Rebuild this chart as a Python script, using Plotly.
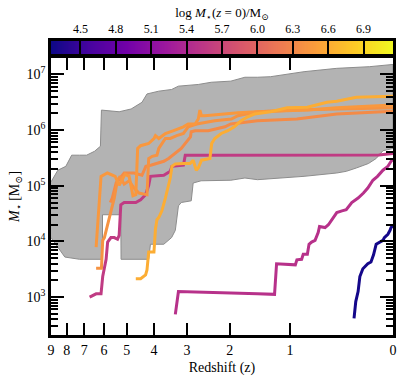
import numpy as np
import plotly.graph_objects as go
from plotly.colors import sample_colorscale

# grey band (spread of the sample), upper and lower edges
band_z_upper = [9.0, 8.55, 8.05, 7.70, 7.25, 6.87, 6.46, 6.17, 6.12, 5.32, 4.83, 4.42, 4.24, 3.84,
                3.44, 3.24, 2.71, 2.40, 1.98, 1.71, 1.49, 1.28, 0.82, 0.46, 0.17, 0.0]
band_logm_upper = [5.07, 5.28, 5.35, 5.55, 5.55, 5.55, 5.62, 5.71, 6.36, 6.33, 6.38, 6.50, 6.65, 6.70,
                   6.73, 6.79, 6.82, 6.86, 6.88, 6.95, 6.95, 6.96, 7.05, 7.11, 7.14, 7.18]
band_z_lower = [9.0, 8.11, 7.25, 6.31, 6.07, 6.07, 5.25, 5.24, 4.18, 4.12, 3.68, 3.44, 3.33, 3.24,
                3.16, 2.89, 2.84, 2.64, 1.98, 1.71, 1.49, 0.82, 0.46, 0.37, 0.28, 0.18, 0.12, 0.07, 0.0]
band_logm_lower = [4.07, 3.72, 3.68, 3.68, 3.68, 4.48, 4.48, 3.68, 3.68, 3.95, 3.95, 4.07, 4.20, 4.64,
                   4.70, 4.73, 5.05, 5.09, 5.10, 5.14, 5.11, 5.17, 5.23, 5.26, 5.32, 5.40, 5.49, 5.63, 5.67]

# individual histories: redshift and log stellar mass
z_blue = [0.30, 0.285, 0.265, 0.25, 0.225, 0.185, 0.16, 0.14, 0.12, 0.09, 0.07, 0.06, 0.035, 0.02, 0.013, 0.0]
logm_blue = [2.62, 2.92, 3.10, 3.37, 3.51, 3.60, 3.63, 3.76, 3.95, 3.99, 4.02, 4.07, 4.13, 4.20, 4.25, 4.29]

z_mag1 = [3.33, 3.24, 1.49, 1.22, 1.19, 0.93, 0.91, 0.85, 0.83, 0.78, 0.76, 0.73, 0.69, 0.655, 0.64,
          0.58, 0.545, 0.49, 0.46, 0.41, 0.37, 0.32, 0.265, 0.22, 0.185, 0.145, 0.11, 0.07, 0.035, 0.013, 0.0]
logm_mag1 = [2.69, 3.10, 3.06, 3.05, 3.60, 3.58, 3.67, 3.68, 3.77, 3.77, 3.95, 3.99, 4.02, 4.16, 4.27,
             4.25, 4.30, 4.45, 4.52, 4.55, 4.57, 4.70, 4.78, 4.87, 4.96, 5.10, 5.17, 5.28, 5.35, 5.44, 5.48]

z_mag2 = [6.71, 6.38, 6.14, 6.06, 5.90, 5.83, 5.68, 5.53, 5.39, 5.32, 5.25, 5.11, 4.65, 4.47, 4.29,
          4.18, 4.12, 3.68, 3.48, 3.43, 3.10, 3.05, 2.59, 1.49, 0.91, 0.46, 0.10, 0.0]
logm_mag2 = [3.00, 3.06, 3.06, 3.37, 3.68, 3.99, 4.07, 4.07, 4.04, 4.11, 4.66, 4.70, 4.70, 4.75, 4.84,
             5.01, 5.17, 5.19, 5.26, 5.35, 5.37, 5.55, 5.55, 5.55, 5.55, 5.555, 5.555, 5.58]

z_or1 = [6.38, 6.14, 5.84, 5.49, 5.32, 5.07, 4.91, 4.76, 4.65, 4.58, 4.47, 4.18, 4.00, 3.95, 3.84,
         3.63, 3.38, 3.24, 3.10, 2.97, 2.79, 2.71, 2.67, 2.63, 2.55, 1.84, 1.49, 0.78, 0.46, 0.0]
logm_or1 = [3.90, 5.17, 5.23, 5.17, 5.01, 5.21, 5.17, 4.82, 4.84, 5.67, 5.72, 5.76, 5.85, 5.90, 5.85,
            5.94, 5.99, 6.02, 6.06, 6.11, 6.11, 6.20, 6.36, 6.26, 6.26, 6.31, 6.33, 6.36, 6.40, 6.45]

z_or2 = [6.38, 6.12, 6.06, 5.98, 5.75, 5.62, 5.53, 5.40, 5.28, 5.11, 4.91, 4.72, 4.53, 4.35, 4.24,
         4.18, 4.06, 3.90, 3.84, 3.63, 3.48, 3.29, 3.10, 2.97, 2.88, 2.75, 2.32, 1.97, 1.84, 1.49, 0.91, 0.46, 0.0]
logm_or2 = [3.52, 3.52, 4.02, 4.07, 4.43, 4.66, 4.78, 5.09, 5.17, 5.03, 5.09, 4.96, 4.87, 4.85, 4.84,
            5.49, 5.53, 5.55, 5.67, 5.85, 5.85, 5.90, 5.94, 6.06, 6.08, 6.11, 6.17, 6.20, 6.26, 6.33, 6.36, 6.38, 6.40]

z_or3 = [5.71, 5.62, 5.45, 5.11, 4.72, 4.42, 4.28, 4.11, 3.68, 3.53, 3.16, 3.05, 2.91, 2.89, 2.79,
         2.47, 2.31, 2.10, 1.98, 1.49, 0.91, 0.46, 0.0]
logm_or3 = [4.70, 4.78, 5.05, 5.23, 5.23, 5.19, 5.35, 5.37, 5.44, 5.49, 5.67, 5.76, 5.88, 5.97, 5.99,
            5.99, 6.02, 6.06, 6.11, 6.17, 6.20, 6.29, 6.34]

z_yel = [4.65, 4.47, 4.29, 4.24, 4.18, 4.00, 3.95, 3.90, 3.84, 3.74, 3.63, 3.53, 3.48, 3.43, 3.33,
         3.10, 2.92, 2.84, 2.76, 2.71, 2.63, 2.43, 2.39, 2.32, 2.18, 2.04, 1.91, 1.78, 1.66, 1.54,
         1.28, 1.04, 0.78, 0.56, 0.46, 0.28, 0.0]
logm_yel = [3.33, 3.33, 3.40, 3.49, 3.81, 3.81, 4.22, 4.39, 4.43, 4.55, 4.78, 5.01, 5.14, 5.35, 5.39,
            5.40, 5.40, 5.46, 5.28, 5.32, 5.46, 5.49, 5.76, 5.85, 5.94, 5.99, 6.06, 6.17, 6.24, 6.29,
            6.33, 6.40, 6.41, 6.50, 6.52, 6.59, 6.61]

histories = [(z_blue, logm_blue), (z_mag1, logm_mag1), (z_mag2, logm_mag2),
             (z_or3, logm_or3), (z_or2, logm_or2), (z_or1, logm_or1), (z_yel, logm_yel)]

cbar_lo, cbar_hi = 4.25, 7.15
cbar_ticks = [4.5, 4.8, 5.1, 5.4, 5.7, 6.0, 6.3, 6.6, 6.9]
z_ticks = [0, 1, 2, 3, 4, 5, 6, 7, 8, 9]

FONT = "Liberation Serif, DejaVu Serif, serif"

fig = go.Figure()

# grey envelope
bx = [1 + z for z in band_z_upper] + [1 + z for z in band_z_lower[::-1]]
by = [10 ** m for m in band_logm_upper] + [10 ** m for m in band_logm_lower[::-1]]
fig.add_trace(go.Scatter(x=bx, y=by, fill="toself", fillcolor="#b3b3b3",
                         line=dict(color="#8c8c8c", width=1), mode="lines", hoverinfo="skip"))

for zz, mm in histories:
    t = (mm[-1] - cbar_lo) / (cbar_hi - cbar_lo)
    col = sample_colorscale("Plasma", [t])[0]
    fig.add_trace(go.Scatter(x=[1 + z for z in zz], y=[10 ** m for m in mm], mode="lines",
                             line=dict(color=col, width=3)))

# colour bar drawn as a heatmap strip
ramp = np.linspace(cbar_lo, cbar_hi, 400)
fig.add_trace(go.Heatmap(x=ramp, y=[0.5], z=[ramp], colorscale="Plasma", zmin=cbar_lo, zmax=cbar_hi,
                         showscale=False, xaxis="x2", yaxis="y2", hoverinfo="skip"))

fig.update_layout(
    width=407, height=383, showlegend=False,
    margin=dict(l=51, r=10, t=41, b=44),
    paper_bgcolor="white", plot_bgcolor="white",
    font=dict(family=FONT, size=14, color="black"),
    xaxis=dict(type="log", range=[1, 0], tickvals=[1 + z for z in z_ticks], ticktext=[str(z) for z in z_ticks],
               ticks="inside", ticklen=12, tickwidth=2, tickcolor="black", mirror="allticks",
               showline=True, linewidth=2.5, linecolor="black", showgrid=False, zeroline=False,
               title=dict(text="Redshift (z)", standoff=6, font=dict(size=14)), domain=[0, 1]),
    yaxis=dict(type="log", range=[2.32, 7.30], domain=[0, 0.943],
               tickvals=[1e3, 1e4, 1e5, 1e6, 1e7],
               ticktext=["10<sup>3</sup>", "10<sup>4</sup>", "10<sup>5</sup>", "10<sup>6</sup>", "10<sup>7</sup>"],
               ticks="inside", ticklen=13, tickwidth=2, tickcolor="black", mirror="allticks",
               minor=dict(ticks="inside", ticklen=7, tickwidth=1.5, tickcolor="black", dtick="D1", showgrid=False),
               showline=True, linewidth=2.5, linecolor="black", showgrid=False, zeroline=False,
               title=dict(text="<i>M</i><sub>⋆</sub> [M<sub>⊙</sub>]", standoff=4, font=dict(size=14))),
    xaxis2=dict(domain=[0, 1], anchor="y2", range=[cbar_lo, cbar_hi], side="top",
                tickvals=cbar_ticks, ticktext=[f"{v:.1f}" for v in cbar_ticks],
                ticks="inside", ticklen=14, tickwidth=2, tickcolor="black", layer="above traces",
                showline=True, mirror=True, linewidth=2.5, linecolor="black", showgrid=False, zeroline=False,
                tickfont=dict(size=12),
                title=dict(text="log <i>M</i><sub>⋆</sub>(<i>z</i> = 0)/M<sub>⊙</sub>", standoff=2, font=dict(size=13))),
    yaxis2=dict(domain=[0.9547, 1], anchor="x2", range=[0, 1], showticklabels=False, ticks="",
                showline=True, mirror=True, linewidth=2.5, linecolor="black", showgrid=False, zeroline=False),
)

fig.write_html("out.html", config={"displayModeBar": False},
               post_script="document.body.style.margin='0';")
